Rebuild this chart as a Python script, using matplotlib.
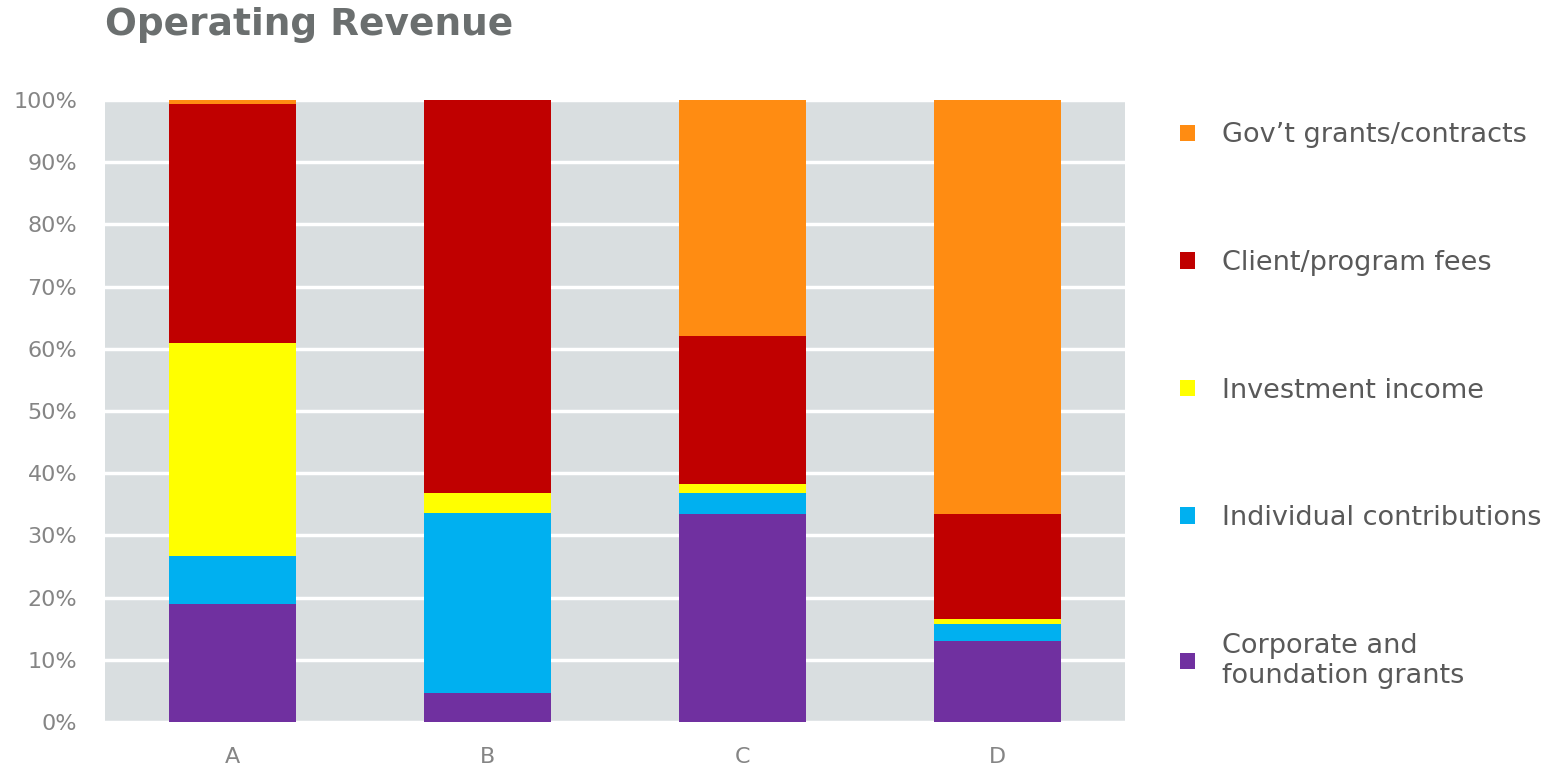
import matplotlib.pyplot as plt
import numpy as np

categorias = ["A", "B", "C", "D"]

# shares in percent, bottom to top
corporate = [19.0, 4.6, 33.4, 13.1]
individual = [7.7, 29.0, 3.5, 2.7]
investment = [34.3, 3.2, 1.3, 0.8]
client_fees = [38.3, 63.2, 23.9, 16.8]
gov_grants = [0.7, 0.0, 37.9, 66.6]

series = [
    ("Corporate and\nfoundation grants", corporate, "#7030A0"),
    ("Individual contributions", individual, "#00B0F0"),
    ("Investment income", investment, "#FFFF00"),
    ("Client/program fees", client_fees, "#C00000"),
    ("Gov\u2019t grants/contracts", gov_grants, "#FF8C12"),
]

fig = plt.figure(figsize=(15.55, 7.72), dpi=100)
ax = fig.add_axes([0.0675, 0.0648, 0.656, 0.8055])
ax.set_facecolor("#D9DEE0")

x = np.arange(len(categorias))
base = np.zeros(len(categorias))
handles = []
for nombre, valores, color in series:
    b = ax.bar(x, valores, width=0.5, bottom=base, color=color, label=nombre, zorder=3)
    handles.append(b)
    base += np.array(valores)

ax.set_xlim(-0.5, 3.5)
ax.set_ylim(0, 100)
ax.set_yticks(np.arange(0, 101, 10))
ax.set_yticklabels([f"{v}%" for v in range(0, 101, 10)])
ax.set_xticks(x)
ax.set_xticklabels(categorias)
ax.yaxis.grid(True, color="white", linewidth=2.5, zorder=1)
ax.set_axisbelow(True)
for s in ax.spines.values():
    s.set_visible(False)
ax.tick_params(length=0, labelsize=16, colors="#858585", pad=20)
ax.tick_params(axis="x", pad=18)

fig.text(0.0675, 0.968, "Operating Revenue", fontsize=27, fontweight="bold",
         color="#6B6F6F", va="center", ha="left")

leg = fig.legend(handles[::-1], [s[0] for s in series][::-1],
                 loc="upper left", bbox_to_anchor=(0.743, 0.873),
                 frameon=False, fontsize=19.5, labelspacing=3.75,
                 handlelength=0.55, handleheight=0.55, handletextpad=1.0)
for t in leg.get_texts():
    t.set_color("#595959")

fig.savefig("out.png", dpi=100)
